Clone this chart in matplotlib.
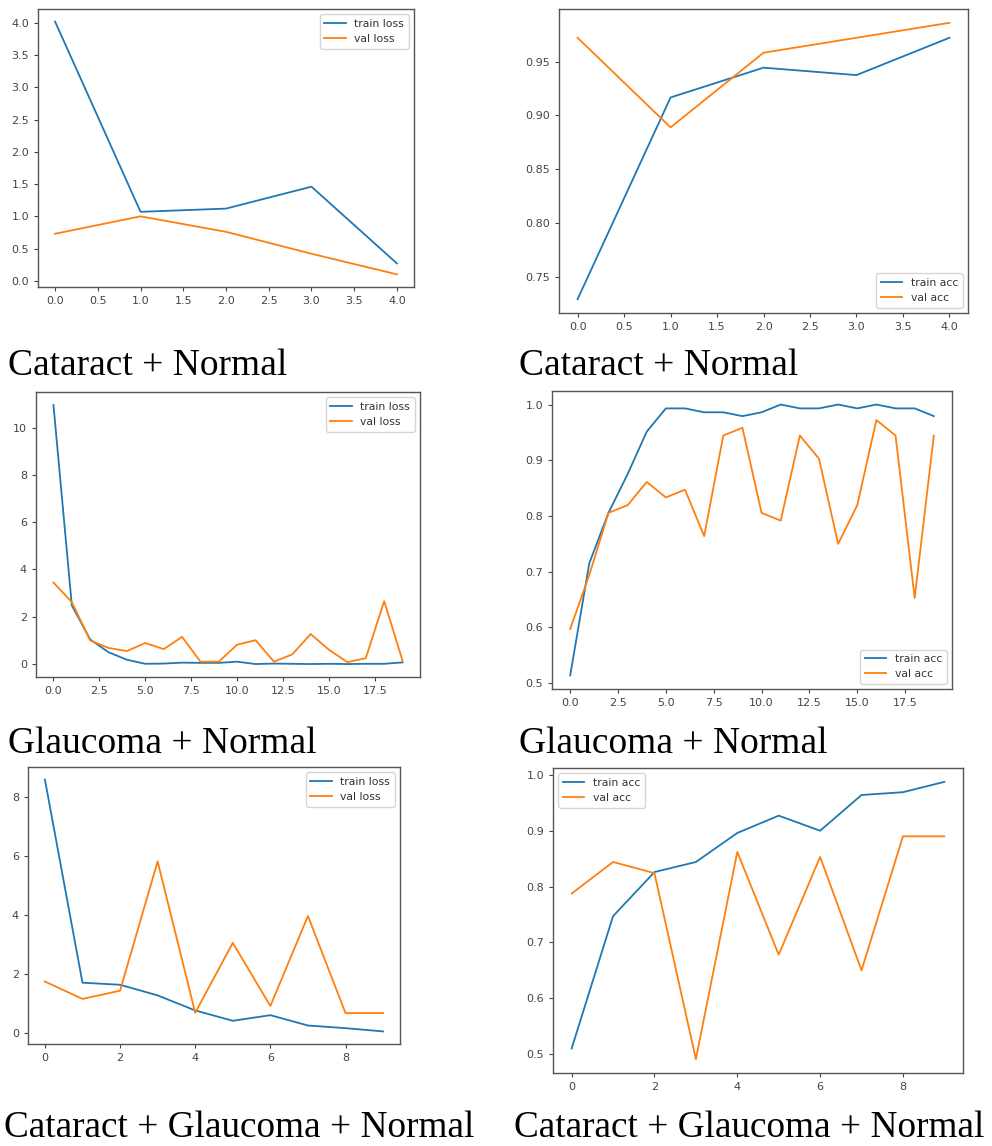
import matplotlib
matplotlib.use('Agg')
import matplotlib.pyplot as plt

# Cataract + Normal (5 epochs)
cn_epochs = [0, 1, 2, 3, 4]
cn_train_loss = [4.02, 1.07, 1.12, 1.46, 0.27]
cn_val_loss = [0.73, 1.00, 0.76, 0.42, 0.10]
cn_train_acc = [0.7292, 0.9167, 0.9444, 0.9375, 0.9722]
cn_val_acc = [0.9722, 0.8889, 0.9583, 0.9722, 0.9861]

# Glaucoma + Normal (20 epochs)
gn_epochs = list(range(20))
gn_train_loss = [10.96, 2.48, 1.04, 0.50, 0.18, 0.01, 0.02, 0.06, 0.05, 0.05,
                 0.10, 0.00, 0.02, 0.01, 0.00, 0.01, 0.00, 0.01, 0.01, 0.07]
gn_val_loss = [3.45, 2.62, 1.00, 0.68, 0.55, 0.89, 0.63, 1.15, 0.10, 0.10,
               0.82, 1.01, 0.10, 0.41, 1.27, 0.60, 0.08, 0.25, 2.66, 0.14]
gn_train_acc = [0.5139, 0.7153, 0.8056, 0.8750, 0.9514, 0.9931, 0.9931, 0.9861, 0.9861, 0.9792,
                0.9861, 1.0, 0.9931, 0.9931, 1.0, 0.9931, 1.0, 0.9931, 0.9931, 0.9792]
gn_val_acc = [0.5972, 0.6944, 0.8056, 0.8194, 0.8611, 0.8333, 0.8472, 0.7639, 0.9444, 0.9583,
              0.8056, 0.7917, 0.9444, 0.9028, 0.7500, 0.8194, 0.9722, 0.9444, 0.6528, 0.9444]

# Cataract + Glaucoma + Normal (10 epochs)
cgn_epochs = list(range(10))
cgn_train_loss = [8.59, 1.71, 1.64, 1.28, 0.77, 0.42, 0.61, 0.26, 0.17, 0.06]
cgn_val_loss = [1.75, 1.16, 1.44, 5.82, 0.69, 3.06, 0.92, 3.97, 0.68, 0.68]
cgn_train_acc = [0.510, 0.747, 0.826, 0.844, 0.896, 0.927, 0.900, 0.964, 0.969, 0.9875]
cgn_val_acc = [0.7875, 0.844, 0.824, 0.491, 0.862, 0.678, 0.853, 0.650, 0.890, 0.890]

captions = ['Cataract + Normal', 'Cataract + Normal',
            'Glaucoma + Normal', 'Glaucoma + Normal',
            'Cataract + Glaucoma + Normal', 'Cataract + Glaucoma + Normal']

W, H = 992, 1146
fig = plt.figure(figsize=(W / 100, H / 100), dpi=100)

def add_axes(left, top, right, bottom):
    return fig.add_axes([left / W, 1 - bottom / H, (right - left) / W, (bottom - top) / H])

# (left, top, right, bottom) in pixels, data, legend labels, legend loc
panels = [
    ((38, 9, 414, 287), cn_epochs, cn_train_loss, cn_val_loss, ('train loss', 'val loss'), 'upper right'),
    ((559, 9, 968, 313), cn_epochs, cn_train_acc, cn_val_acc, ('train acc', 'val acc'), 'lower right'),
    ((36, 392, 420, 677), gn_epochs, gn_train_loss, gn_val_loss, ('train loss', 'val loss'), 'upper right'),
    ((552, 391, 952, 689), gn_epochs, gn_train_acc, gn_val_acc, ('train acc', 'val acc'), 'lower right'),
    ((28, 767, 400, 1044), cgn_epochs, cgn_train_loss, cgn_val_loss, ('train loss', 'val loss'), 'upper right'),
    ((553, 768, 963, 1073), cgn_epochs, cgn_train_acc, cgn_val_acc, ('train acc', 'val acc'), 'upper left'),
]

for box, x, tr, va, labels, loc in panels:
    ax = add_axes(*box)
    ax.plot(x, tr, color='#1f77b4', lw=1.3, label=labels[0])
    ax.plot(x, va, color='#ff7f0e', lw=1.3, label=labels[1])
    ax.tick_params(labelsize=8, colors='#444444', length=3, width=0.8)
    for s in ax.spines.values():
        s.set_color('#555555')
        s.set_linewidth(1.0)
    ax.legend(loc=loc, fontsize=7.8, labelcolor='#333333')

# captions under each panel
cap_pos = [(8, 375, 27), (519, 375, 27), (8, 753, 27), (519, 753, 27),
           (4, 1137, 26.8), (514, 1137, 26.8)]
for (cx, cy, fs), text in zip(cap_pos, captions):
    fig.text(cx / W, 1 - cy / H, text, family='Liberation Serif', fontsize=fs,
             ha='left', va='baseline', color='black')

fig.savefig('out.png', dpi=100)
